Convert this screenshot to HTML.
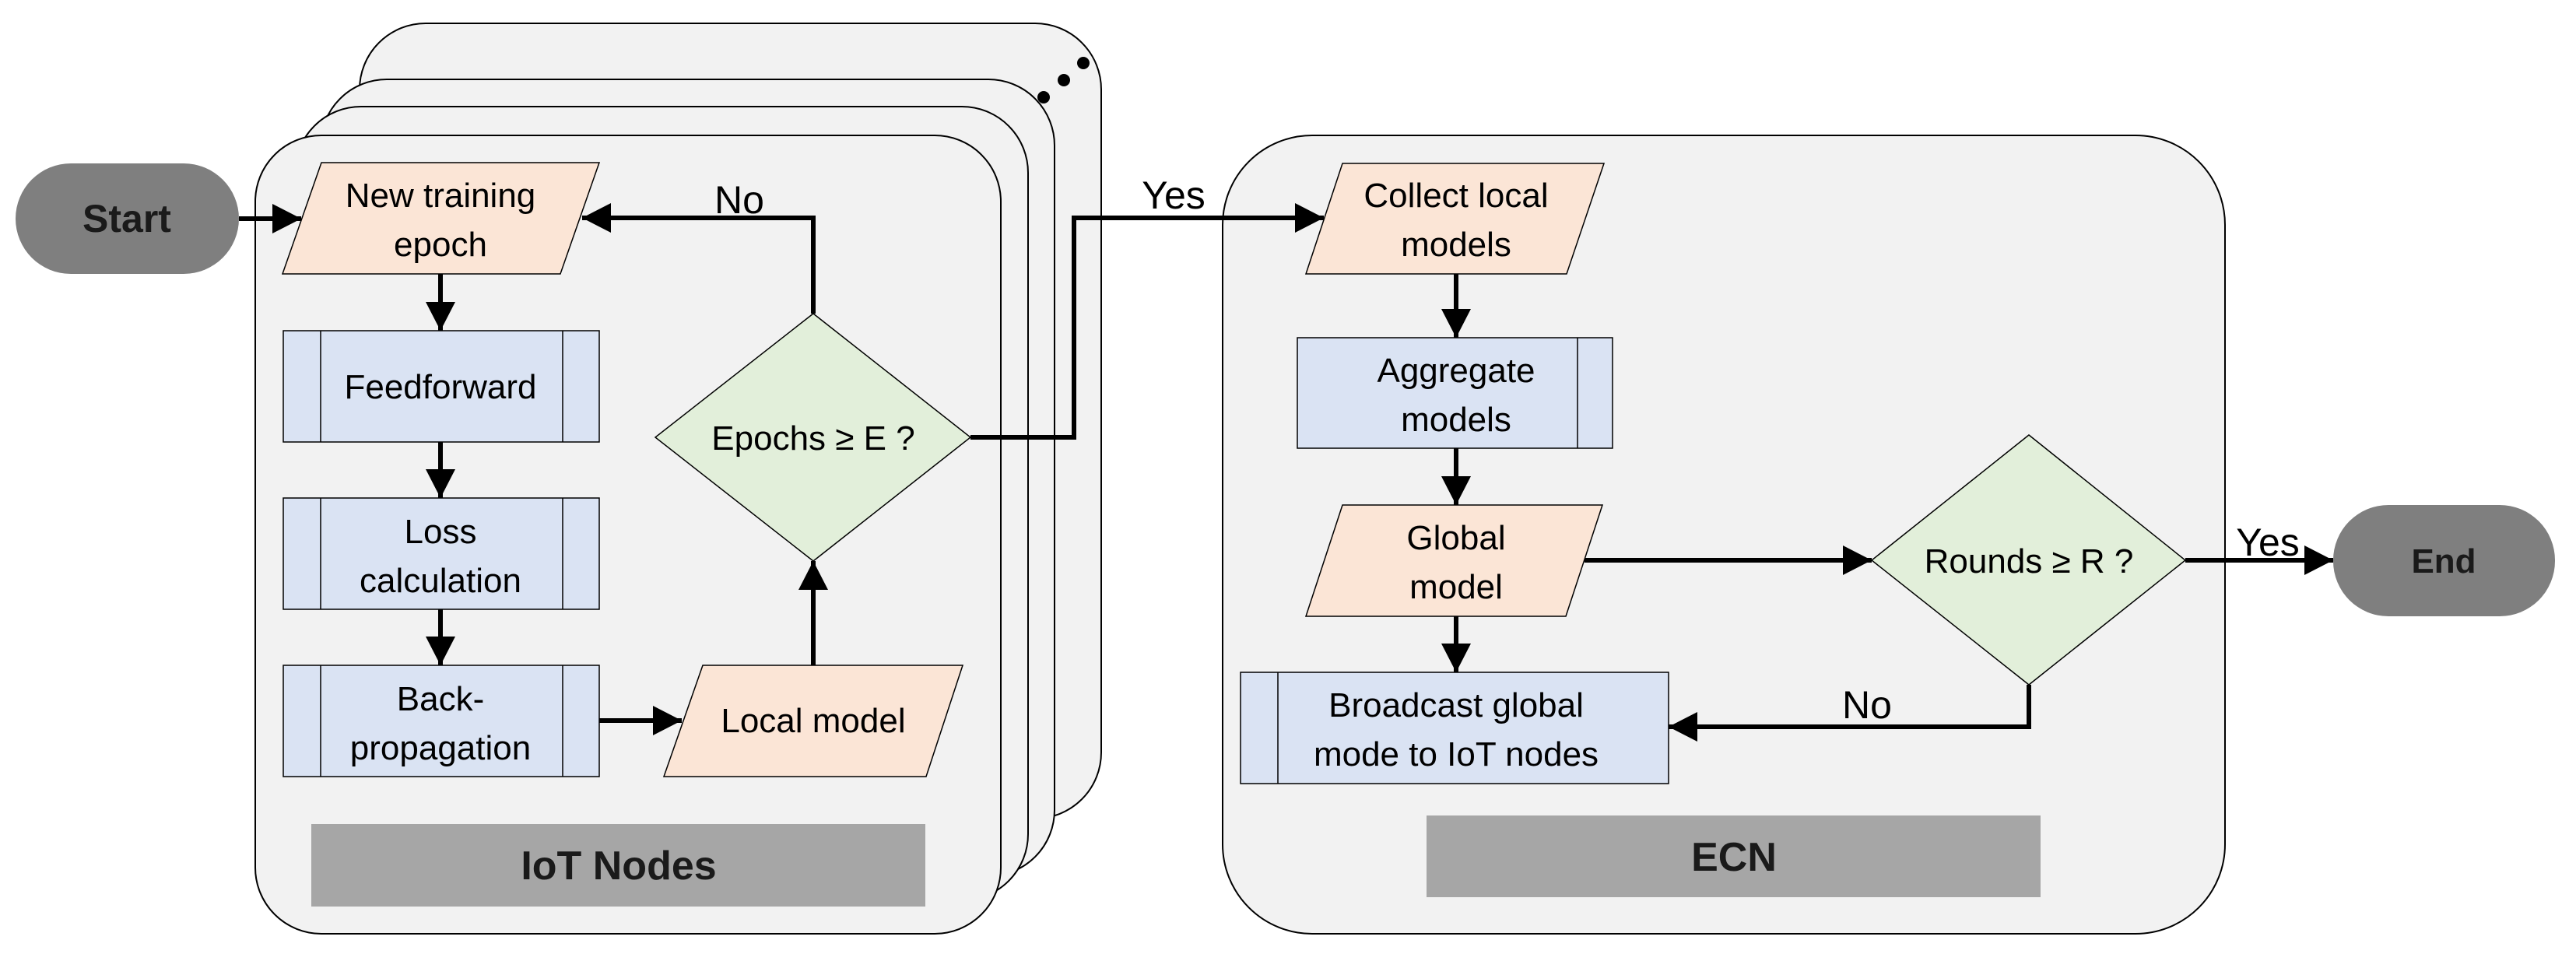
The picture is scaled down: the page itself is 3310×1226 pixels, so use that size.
<!DOCTYPE html>
<html><head><meta charset="utf-8"><style>html,body{margin:0;padding:0;background:#fff}svg{display:block}</style></head>
<body>
<svg width="3310" height="1226" viewBox="0 0 3310 1226" xmlns="http://www.w3.org/2000/svg" font-family="'Liberation Sans', sans-serif">
<defs>
<marker id="a" markerUnits="userSpaceOnUse" markerWidth="40" markerHeight="40" refX="37" refY="19" orient="auto"><path d="M0,0 L37,19 L0,38 Z" fill="#000"/></marker>
</defs>
<g fill="#f2f2f2" stroke="#000" stroke-width="2">
<rect x="462" y="30" width="953" height="1022" rx="85"/>
<rect x="412" y="102" width="943" height="1024" rx="85"/>
<rect x="379" y="137" width="942" height="1020" rx="85"/>
<rect x="328" y="174" width="958" height="1026" rx="85"/>
<rect x="1571" y="174" width="1288" height="1026" rx="115"/>
</g>
<g fill="#000"><circle cx="1341" cy="125" r="8"/><circle cx="1367" cy="103" r="8"/><circle cx="1392" cy="81" r="8"/></g>
<rect x="20" y="210" width="287" height="142" rx="71" fill="#7f7f7f"/>
<rect x="2998" y="649" width="285" height="143" rx="71" fill="#7f7f7f"/>
<rect x="400" y="1059" width="789" height="106" fill="#a6a6a6"/>
<rect x="1833" y="1048" width="789" height="105" fill="#a6a6a6"/>
<g stroke="#000" stroke-width="1.5">
<polygon points="413,209 770,209 720,352 363,352" fill="#fbe5d6"/>
<polygon points="903,855 1237,855 1190,998 853,998" fill="#fbe5d6"/>
<polygon points="1725,210 2061,210 2013,352 1678,352" fill="#fbe5d6"/>
<polygon points="1725,649 2059,649 2012,792 1678,792" fill="#fbe5d6"/>
<rect x="364" y="425" width="406" height="143" fill="#dae3f3"/>
<rect x="364" y="640" width="406" height="143" fill="#dae3f3"/>
<rect x="364" y="855" width="406" height="143" fill="#dae3f3"/>
<line x1="412" y1="425" x2="412" y2="568"/><line x1="723" y1="425" x2="723" y2="568"/>
<line x1="412" y1="640" x2="412" y2="783"/><line x1="723" y1="640" x2="723" y2="783"/>
<line x1="412" y1="855" x2="412" y2="998"/><line x1="723" y1="855" x2="723" y2="998"/>
<rect x="1667" y="434" width="405" height="142" fill="#dae3f3"/>
<line x1="2027" y1="434" x2="2027" y2="576"/>
<rect x="1594" y="864" width="550" height="143" fill="#dae3f3"/>
<line x1="1642" y1="864" x2="1642" y2="1007"/>
<polygon points="1045,403 1247,562 1045,721 842,562" fill="#e2efda"/>
<polygon points="2607,559 2808,720 2607,880 2405,720" fill="#e2efda"/>
</g>
<g stroke="#000" stroke-width="6" fill="none" marker-end="url(#a)">
<line x1="307" y1="281" x2="387" y2="281"/>
<line x1="566" y1="352" x2="566" y2="425"/>
<line x1="566" y1="568" x2="566" y2="640"/>
<line x1="566" y1="783" x2="566" y2="855"/>
<line x1="770" y1="926" x2="876" y2="926"/>
<line x1="1045" y1="855" x2="1045" y2="721"/>
<polyline points="1045,403 1045,280 748,280"/>
<polyline points="1247,562 1380,562 1380,280 1701,280"/>
<line x1="1871" y1="352" x2="1871" y2="434"/>
<line x1="1871" y1="576" x2="1871" y2="649"/>
<line x1="1871" y1="792" x2="1871" y2="864"/>
<line x1="2036" y1="720" x2="2405" y2="720"/>
<line x1="2808" y1="720" x2="2998" y2="720"/>
<polyline points="2607,880 2607,934 2144,934"/>
</g>
<g font-size="44" fill="#000" text-anchor="middle">
<text x="566" y="266">New training</text><text x="566" y="329">epoch</text>
<text x="566" y="512">Feedforward</text>
<text x="566" y="698">Loss</text><text x="566" y="761">calculation</text>
<text x="566" y="913">Back-</text><text x="566" y="976">propagation</text>
<text x="1045" y="941">Local model</text>
<text x="1045" y="578">Epochs ≥ E ?</text>
<text x="1871" y="266">Collect local</text><text x="1871" y="329">models</text>
<text x="1871" y="491">Aggregate</text><text x="1871" y="554">models</text>
<text x="1871" y="706">Global</text><text x="1871" y="769">model</text>
<text x="1871" y="921">Broadcast global</text><text x="1871" y="984">mode to IoT nodes</text>
<text x="2607" y="736">Rounds ≥ R ?</text>
<text x="950" y="274" font-size="50">No</text>
<text x="1508" y="268" font-size="50">Yes</text>
<text x="2914" y="714" font-size="50">Yes</text>
<text x="2399" y="923" font-size="50">No</text>
</g>
<g font-weight="bold" fill="#1a1a1a" text-anchor="middle">
<text x="163" y="298" font-size="50">Start</text>
<text x="3140" y="736" font-size="44">End</text>
<text x="795" y="1130" font-size="52">IoT Nodes</text>
<text x="2228" y="1119" font-size="52">ECN</text>
</g>
</svg>
</body></html>
